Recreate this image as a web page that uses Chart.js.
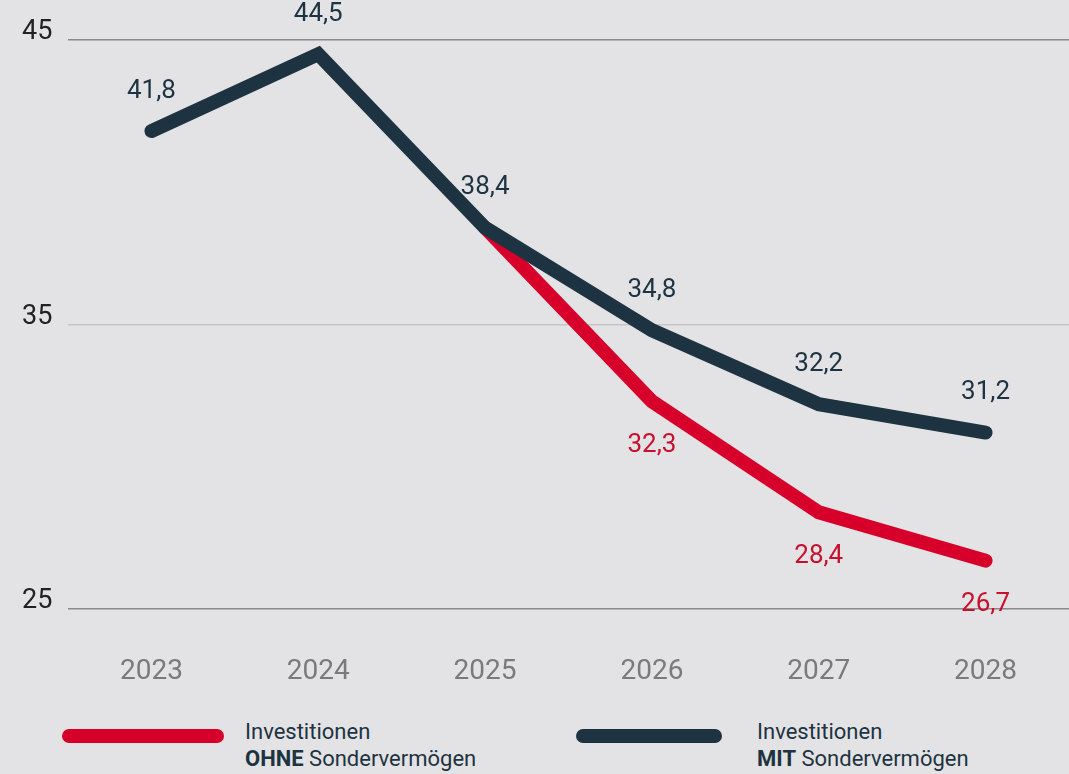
<!DOCTYPE html>
<html lang="de">
<head>
<meta charset="utf-8">
<script src="https://cdn.jsdelivr.net/npm/chart.js@4/dist/chart.umd.min.js"></script>
<style>
  html, body { margin: 0; padding: 0; background: #e3e3e5; }
  body { width: 1069px; height: 774px; overflow: hidden; position: relative; font-family: Roboto, "Noto Sans", sans-serif; }
  #investChart { position: absolute; left: 0; top: 0; }
  .legend { position: absolute; top: 718px; left: 0; width: 1069px; height: 56px; }
  .item { position: absolute; top: 0; }
  .swatch { position: absolute; top: 11px; height: 14px; border-radius: 7px; }
  .txt { position: absolute; top: 0; font-size: 22px; line-height: 27px; color: #1e3341; white-space: nowrap; }
  .txt b { font-weight: 700; }
</style>
</head>
<body>
<canvas id="investChart" width="1069" height="690"></canvas>
<div class="legend">
  <div class="item" style="left:0">
    <div class="swatch" style="left:62px;width:162px;background:#d7002b"></div>
    <div class="txt" style="left:245px">Investitionen<br><b>OHNE</b> Sondervermögen</div>
  </div>
  <div class="item" style="left:0">
    <div class="swatch" style="left:576px;width:146px;background:#1e3341"></div>
    <div class="txt" style="left:757px">Investitionen<br><b>MIT</b> Sondervermögen</div>
  </div>
</div>
<script>
const years = ["2023", "2024", "2025", "2026", "2027", "2028"];
const mitSonder = [41.8, 44.5, 38.4, 34.8, 32.2, 31.2];
const ohneSonder = [null, null, 38.4, 32.3, 28.4, 26.7];
const yTicks = [25, 35, 45];

const DARK = "#1e3341";
const RED = "#d7002b";

function fmt(v) {
    return v.toFixed(1).replace(".", ",");
}

// value labels and y tick labels, drawn by hand
const labelPlugin = {
    id: "labels",
    afterDatasetsDraw(chart) {
        const ctx = chart.ctx;
        const x = chart.scales.x;
        const y = chart.scales.y;
        ctx.save();
        ctx.font = "26px Roboto, sans-serif";
        ctx.textAlign = "center";
        ctx.textBaseline = "middle";

        mitSonder.forEach(function (v, i) {
            if (v == null) return;
            ctx.fillStyle = DARK;
            ctx.fillText(fmt(v), x.getPixelForValue(i), y.getPixelForValue(v) - 40);
        });
        ohneSonder.forEach(function (v, i) {
            if (v == null || v === mitSonder[i]) return;
            ctx.fillStyle = "#c8102e";
            ctx.fillText(fmt(v), x.getPixelForValue(i), y.getPixelForValue(v) + 44);
        });

        // y axis numbers sit on top of their grid line
        ctx.font = "27px Roboto, sans-serif";
        ctx.textAlign = "left";
        ctx.textBaseline = "alphabetic";
        ctx.fillStyle = "#222";
        yTicks.forEach(function (t) {
            ctx.fillText(String(t), 22, y.getPixelForValue(t) - 1);
        });
        ctx.restore();
    }
};

document.addEventListener("DOMContentLoaded", function () {

    const canvas = document.getElementById("investChart");

    new Chart(canvas, {
        type: "line",
        data: {
            labels: years,
            datasets: [
                {
                    label: "Investitionen MIT Sondervermögen",
                    data: mitSonder,
                    borderColor: DARK,
                    borderWidth: 14,
                    borderCapStyle: "round",
                    borderJoinStyle: "miter",
                    pointRadius: 0,
                    tension: 0
                },
                {
                    label: "Investitionen OHNE Sondervermögen",
                    data: ohneSonder,
                    borderColor: RED,
                    borderWidth: 14,
                    borderCapStyle: "round",
                    borderJoinStyle: "miter",
                    pointRadius: 0,
                    tension: 0
                }
            ]
        },
        options: {
            responsive: false,
            animation: false,
            layout: {
                padding: { left: 68, top: 40, right: 0, bottom: 0 }
            },
            plugins: {
                legend: { display: false },
                tooltip: { enabled: false }
            },
            scales: {
                x: {
                    offset: true,
                    grid: { display: false },
                    border: { display: false },
                    afterFit: function (scale) {
                        scale.height = 81;
                    },
                    ticks: {
                        color: "#7a7a7a",
                        font: { family: "Roboto", size: 28 },
                        padding: 38,
                        maxRotation: 0
                    }
                },
                y: {
                    min: 25,
                    max: 45,
                    afterBuildTicks: function (axis) {
                        axis.ticks = yTicks.map(function (v) { return { value: v }; });
                    },
                    border: { display: false },
                    grid: {
                        drawTicks: false,
                        lineWidth: 1.5,
                        color: function (c) {
                            return c.tick && c.tick.value === 35 ? "#c6c6c8" : "#8a8a8a";
                        }
                    },
                    ticks: { display: false }
                }
            }
        },
        plugins: [labelPlugin]
    });

});
</script>
</body>
</html>
